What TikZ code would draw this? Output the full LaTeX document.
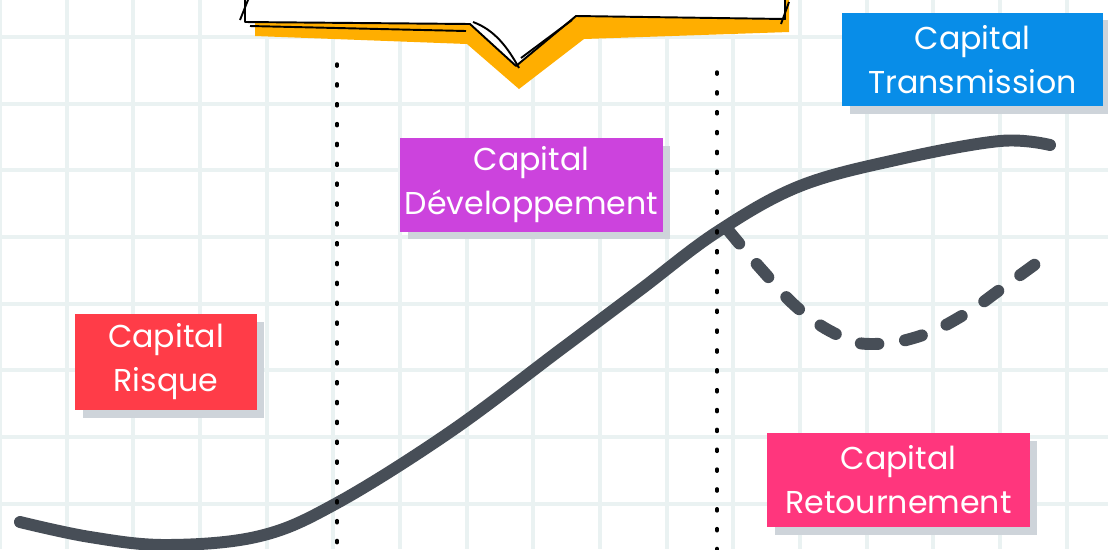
\documentclass[tikz,border=0pt]{standalone}
\usepackage{fontspec}
\setmainfont{Poppins}
\usetikzlibrary{shadows}
\definecolor{gridline}{RGB}{234,242,242}
\definecolor{curvegray}{RGB}{71,78,87}
\definecolor{shadowgray}{RGB}{206,212,218}
\definecolor{calloutyellow}{RGB}{255,174,0}
\definecolor{risquered}{RGB}{255,60,72}
\definecolor{devpurple}{RGB}{204,67,221}
\definecolor{transblue}{RGB}{8,141,232}
\definecolor{retpink}{RGB}{255,54,125}
\newcommand{\stagefont}{\fontsize{18}{25}\selectfont}

\tikzset{
  stage/.style={rectangle, text=white, align=center, inner sep=0pt,
    minimum width=#1, minimum height=1.88cm, font=\stagefont,
    drop shadow={shadow xshift=0.15cm, shadow yshift=-0.15cm, fill=shadowgray, opacity=1}},
  phase/.style={draw=black, line width=2pt, line cap=round, dash pattern=on 1.2pt off 10.1pt},
  trend/.style={draw=curvegray, line width=6.8pt, line cap=round, line join=round},
}

\begin{document}
\begin{tikzpicture}[x=0.02cm, y=-0.02cm]
\useasboundingbox (0,0) rectangle (1108,549);
\clip (0,0) rectangle (1108,549);
\fill[white] (0,0) rectangle (1108,549);

% grid
\foreach \i in {0,...,16}
  \draw[gridline, line width=2.3pt] (\i*66.67,0) -- (\i*66.67,549);
\foreach \j in {0,...,7}
  \draw[gridline, line width=2.3pt] (0,37+\j*66.67) -- (1108,37+\j*66.67);

% callout at the top
\fill[calloutyellow] (255,-5) -- (255,36) -- (467,44) -- (519,89) -- (584,39)
  -- (789,32) -- (789,-5) -- cycle;
\filldraw[fill=white, draw=black, line width=1.1pt, line join=round]
  (245,-5) -- (245,22) -- (470,24) -- (516,66) -- (576,16) -- (785,19) -- (785,-5);
\draw[black, line width=1.1pt] (240,20) -- (250,-5);
\draw[black, line width=1.1pt] (250,26) -- (466,31);
\draw[black, line width=1.1pt] (473,22) .. controls (495,30) and (508,48) .. (519,68);
\draw[black, line width=1.1pt] (521,58) -- (572,20);
\draw[black, line width=1.1pt] (781,24) -- (789,2);

% growth curve
\coordinate (start) at (20,522);
\coordinate (split) at (728,230);
\coordinate (finish) at (1050,145);
\draw[trend] plot[smooth, tension=0.6] coordinates {(20,522) (90,537) (167,545)
  (260,536) (337,503) (450,432) (560,350) (640,290) (717,232) (800,186)
  (900,159) (1000,141) (1050,145)};
\draw[trend, dash pattern=on 10pt off 15.3pt] plot[smooth, tension=0.7]
  coordinates {(728,230) (762,270) (800,310) (840,336) (873,344) (920,336)
  (965,314) (1005,286) (1045,257)};

% phase limits
\coordinate (lim1top) at (337,64);
\coordinate (lim1bot) at (337,560);
\coordinate (lim2top) at (717,72);
\coordinate (lim2bot) at (717,560);
\draw[phase] (lim1top) -- (lim1bot);
\draw[phase] (lim2top) -- (lim2bot);

% stages
\node[stage=3.64cm, minimum height=1.92cm, fill=risquered] (risque) at (166,362) {Capital\\Risque};
\node[stage=5.26cm, fill=devpurple] (dev) at (531.5,185) {Capital\\Développement};
\node[stage=5.22cm, fill=transblue] (trans) at (972.5,59.5) {Capital\\Transmission};
\node[stage=5.26cm, fill=retpink] (ret) at (898.5,480) {Capital\\Retournement};
\end{tikzpicture}
\end{document}
